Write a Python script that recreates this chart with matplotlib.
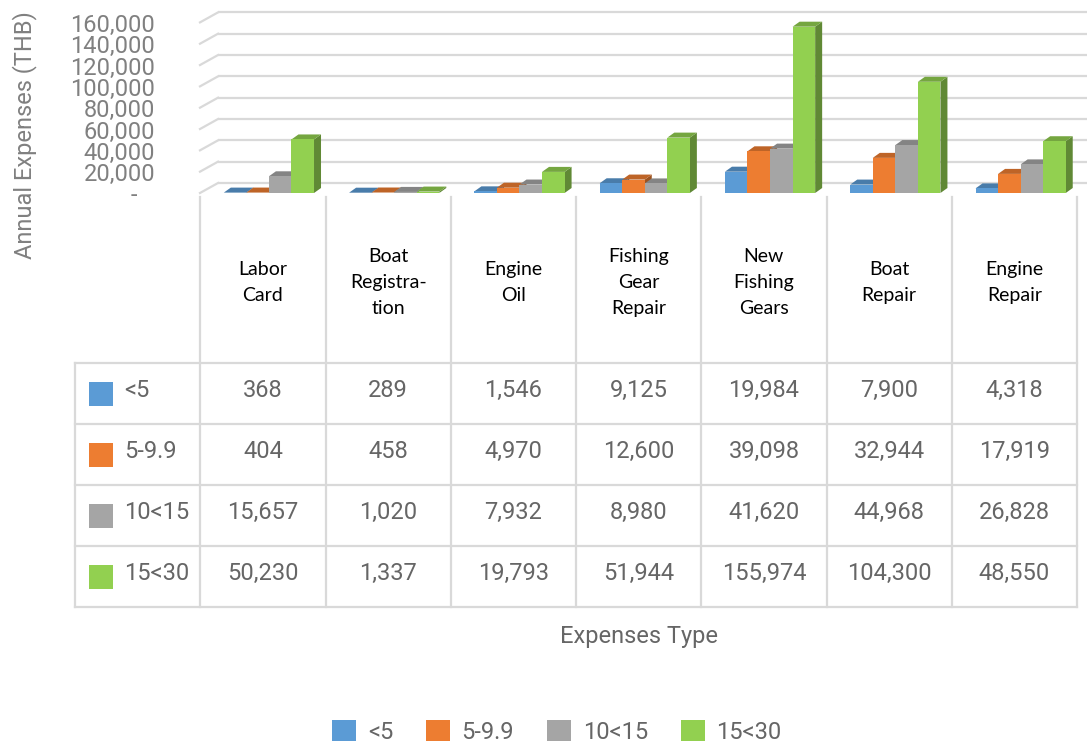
import matplotlib
matplotlib.use("Agg")
import matplotlib.pyplot as plt
import matplotlib.colors as mcolors
from matplotlib.patches import Polygon, Rectangle, Patch
from matplotlib.transforms import offset_copy

# data
categories = ["Labor\nCard", "Boat\nRegistra-\ntion", "Engine\nOil", "Fishing\nGear\nRepair",
              "New\nFishing\nGears", "Boat\nRepair", "Engine\nRepair"]
groups = ["<5", "5-9.9", "10<15", "15<30"]
v_lt5 = [368, 289, 1546, 9125, 19984, 7900, 4318]
v_5_10 = [404, 458, 4970, 12600, 39098, 32944, 17919]
v_10_15 = [15657, 1020, 7932, 8980, 41620, 44968, 26828]
v_15_30 = [50230, 1337, 19793, 51944, 155974, 104300, 48550]
series = [v_lt5, v_5_10, v_10_15, v_15_30]
colors = ["#5B9BD5", "#ED7D31", "#A5A5A5", "#92D050"]
yticks = [0, 20000, 40000, 60000, 80000, 100000, 120000, 140000, 160000]

W, H = 1087, 742
fig = plt.figure(figsize=(W / 100, H / 100), dpi=100)
fig.patch.set_facecolor("white")

def rect(x0, y0, x1, y1):
    # pixel box (top-left origin) -> figure fraction
    return [x0 / W, 1 - y1 / H, (x1 - x0) / W, (y1 - y0) / H]

def shade(c, f):
    r, g, b = mcolors.to_rgb(c)
    return (r * f, g * f, b * f)

numfont = dict(family=["Roboto", "DejaVu Sans"], fontweight="normal")
grid_c = "#D9D9D9"

# ---- 3D-looking column chart ----
ax = fig.add_axes(rect(200, 0, 1077, 193))
ax.set_xlim(-0.5, 6.5)
ax.set_ylim(0, 181000)
ax.axis("off")

px_x = 7 / 877          # one pixel in x data units
px_y = 181000 / 193     # one pixel in y data units
wall_dx, wall_dy = 18 * px_x, 10 * px_y
bar_dx, bar_dy = 7 * px_x, 5 * px_y

for v in yticks:
    ax.plot([-0.5 + wall_dx, 6.58], [v + wall_dy, v + wall_dy], color=grid_c, lw=1.6,
            clip_on=False, zorder=1, solid_capstyle="butt")
    ax.plot([-0.5, -0.5 + wall_dx], [v, v + wall_dy], color=grid_c, lw=1.6,
            clip_on=False, zorder=1)

bw = 0.18
for i in range(len(categories)):
    for j, vals in enumerate(series):
        h = vals[i]
        x0 = i + 0.05 + (j - 2) * bw
        x1 = x0 + bw
        z = 10 + i * 10 + j
        side = Polygon([(x1, 0), (x1 + bar_dx, bar_dy), (x1 + bar_dx, h + bar_dy), (x1, h)],
                       closed=True, facecolor=shade(colors[j], 0.66), edgecolor="none",
                       zorder=z, clip_on=False)
        top = Polygon([(x0, h), (x1, h), (x1 + bar_dx, h + bar_dy), (x0 + bar_dx, h + bar_dy)],
                      closed=True, facecolor=shade(colors[j], 0.8), edgecolor="none",
                      zorder=z, clip_on=False)
        ax.add_patch(side)
        ax.add_patch(top)
        ax.bar(x0, h, width=bw, align="edge", color=colors[j], zorder=z + 0.5, clip_on=False)

tick_tr = offset_copy(ax.get_yaxis_transform(), fig=fig, x=0, y=-3, units="dots")
for v in yticks:
    lab = f"{v:,}" if v else "-   "
    ax.text(-0.051, v, lab, transform=tick_tr, ha="right", va="center", fontsize=17,
            color="#808080", **numfont)

# ---- data table ----
tab = fig.add_axes(rect(75, 197, 1077, 607))
tab.set_xlim(-1.5, 6.5)
hdr = 166 / 61
tab.set_ylim(hdr + 4, 0)
tab.axis("off")

for k in range(8):
    tab.plot([k - 0.5, k - 0.5], [0, hdr + 4], color=grid_c, lw=1.6, clip_on=False)
tab.plot([-1.5, -1.5], [hdr, hdr + 4], color=grid_c, lw=1.6, clip_on=False)
for r in range(5):
    tab.plot([-1.5, 6.5], [hdr + r, hdr + r], color=grid_c, lw=1.6, clip_on=False)

for i, name in enumerate(categories):
    tab.text(i, hdr / 2 + 0.04, name, ha="center", va="center", fontsize=14,
             family=["Lato", "DejaVu Sans"], color="black", linespacing=1.65)

sq = 24 / 61
for r, (g, vals) in enumerate(zip(groups, series)):
    yc = hdr + r + 0.5
    tab.add_patch(Rectangle((-1.5 + 14 / 125.25, yc - sq / 2), 24 / 125.25, sq,
                            facecolor=colors[r], edgecolor="none", clip_on=False))
    tab.text(-1.5 + 49 / 125.25, yc - 0.05, g, ha="left", va="center", fontsize=17,
             color="#666666", **numfont)
    for i, v in enumerate(vals):
        tab.text(i, yc - 0.05, f"{v:,}", ha="center", va="center", fontsize=17,
                 color="#666666", **numfont)

# ---- titles and legend ----
fig.text(25 / W, 1 - 135 / H, "Annual Expenses (THB)", rotation=90, ha="center", va="center",
         fontsize=17, color="#808080", **numfont)
fig.text(639 / W, 1 - 636 / H, "Expenses Type", ha="center", va="center",
         fontsize=17, color="#666666", **numfont)

handles = [Patch(facecolor=c, edgecolor="none") for c in colors]
leg = fig.legend(handles, groups, loc="center", bbox_to_anchor=(557 / W, 1 - 732 / H), ncol=4,
                 frameon=False, handlelength=1.0, handleheight=1.0, handletextpad=0.5,
                 columnspacing=1.4, prop=dict(family=["Roboto", "DejaVu Sans"], size=17))
for t in leg.get_texts():
    t.set_color("#666666")

fig.savefig("out.png", dpi=100, facecolor="white")
